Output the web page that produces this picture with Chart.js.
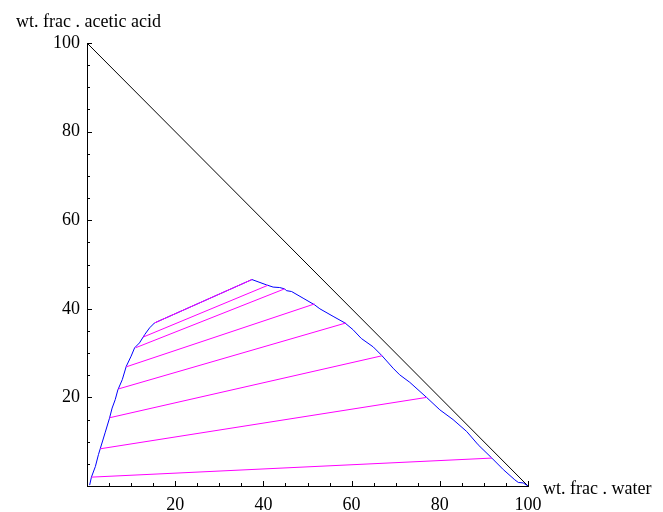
<!DOCTYPE html>
<html>
<head>
<meta charset="utf-8">
<script src="https://cdn.jsdelivr.net/npm/chart.js@4.4.0/dist/chart.umd.min.js"></script>
<style>
  html, body { margin: 0; padding: 0; background: #fff; }
  #wrap { width: 663px; height: 512px; }
</style>
</head>
<body>
<div id="wrap"><canvas id="ternaryChart" width="663" height="512"></canvas></div>
<script>
const xTitle = "wt. frac . water";
const yTitle = "wt. frac . acetic acid";

// binodal curve (raffinate branch up to the plait region, then extract branch down)
const curveX = [0.6, 1.0, 1.9, 2.6, 3.0, 4.1, 5.1, 5.7, 6.4, 7.0, 8.0, 8.9, 10.0, 10.8, 11.9, 13.1, 14.2, 15.3,
  37.4, 40.7, 42.2, 43.7, 44.8, 45.2, 46.4, 49.0, 51.6, 52.8, 55.8, 58.5, 60.3, 62.2, 64.9, 66.9,
  69.4, 70.9, 73.2, 77.0, 80.0, 83.0, 86.1, 88.7, 91.8, 94.4, 97.0, 97.8, 98.9, 100];
const curveY = [0.2, 2.0, 4.4, 7.1, 8.4, 12.0, 15.3, 17.6, 19.5, 21.7, 24.0, 27.0, 29.3, 31.2, 32.3, 34.2, 35.7, 36.8,
  46.6, 45.4, 44.9, 44.8, 44.5, 44.1, 43.9, 42.4, 40.9, 40.0, 38.3, 36.8, 35.3, 33.3, 31.4, 29.4,
  26.6, 25.1, 23.4, 20.0, 17.2, 15.0, 12.3, 9.3, 6.3, 3.7, 1.4, 0.8, 0.7, 0];

// tie lines
const tieLeftX = [15.3, 12.7, 11.0, 8.9, 7.1, 5.1, 3.0, 1.0];
const tieLeftY = [36.8, 33.6, 31.2, 26.9, 21.9, 15.4, 8.4, 2.0];
const tieRightX = [37.4, 41.0, 44.8, 51.6, 58.7, 66.9, 77.0, 91.8];
const tieRightY = [46.6, 45.3, 44.5, 41.1, 36.8, 29.4, 20.0, 6.3];

// hypotenuse of the triangle
const edgeX = [0, 100];
const edgeY = [100, 0];

const labelFont = { family: "'Liberation Serif', 'Times New Roman', serif", size: 18 };

function toPoints(xs, ys) {
  return xs.map((x, i) => ({ x: x, y: ys[i] }));
}

let tieSets = tieLeftX.map((x, i) => ({
  data: [{ x: x, y: tieLeftY[i] }, { x: tieRightX[i], y: tieRightY[i] }],
  borderColor: "#ff00ff",
  borderWidth: 1,
  order: 0,
}));

// ticks point into the plot, like the original
const innerTicks = {
  id: "innerTicks",
  afterDraw(chart) {
    const ctx = chart.ctx;
    const area = chart.chartArea;
    const xs = chart.scales.x;
    const ys = chart.scales.y;
    ctx.save();
    ctx.strokeStyle = "#000";
    ctx.lineWidth = 1;
    xs.ticks.forEach((t) => {
      if (t.value === 0) return;
      const px = Math.round(xs.getPixelForValue(t.value)) + 0.5;
      const len = t.value % 20 === 0 ? 5 : 3;
      ctx.beginPath();
      ctx.moveTo(px, area.bottom);
      ctx.lineTo(px, area.bottom - len);
      ctx.stroke();
    });
    ys.ticks.forEach((t) => {
      if (t.value === 0) return;
      const py = Math.round(ys.getPixelForValue(t.value)) + 0.5;
      const len = t.value % 20 === 0 ? 5 : 3;
      ctx.beginPath();
      ctx.moveTo(area.left, py);
      ctx.lineTo(area.left + len, py);
      ctx.stroke();
    });

    ctx.fillStyle = "#000";
    ctx.font = "18px 'Liberation Serif', serif";
    ctx.textBaseline = "alphabetic";
    ctx.textAlign = "left";
    ctx.fillText(yTitle, 16, 27);
    ctx.fillText(xTitle, 543, 494);
    ctx.restore();
  },
};

new Chart(document.getElementById("ternaryChart"), {
  type: "scatter",
  data: {
    datasets: tieSets.concat([
      {
        data: toPoints(curveX, curveY),
        borderColor: "#0000ff",
        borderWidth: 1,
        order: 1,
      },
      {
        data: toPoints(edgeX, edgeY),
        borderColor: "#000",
        borderWidth: 1,
        order: 2,
      },
    ]),
  },
  options: {
    responsive: false,
    animation: false,
    showLine: true,
    elements: { point: { radius: 0 }, line: { tension: 0 } },
    layout: { padding: { top: 43, right: 135, left: 0, bottom: 0 } },
    plugins: { legend: { display: false }, tooltip: { enabled: false } },
    scales: {
      x: {
        type: "linear",
        min: 0,
        max: 100,
        afterFit(s) { s.height = 26; },
        grid: { drawOnChartArea: false, drawTicks: false },
        border: { color: "#000", width: 1 },
        ticks: {
          stepSize: 5,
          autoSkip: false,
          maxRotation: 0,
          padding: 8,
          color: "#000",
          font: labelFont,
          callback: (v) => (v % 20 === 0 && v !== 0 ? v : ""),
        },
      },
      y: {
        type: "linear",
        min: 0,
        max: 100,
        afterFit(s) { s.width = 87; },
        grid: { drawOnChartArea: false, drawTicks: false },
        border: { color: "#000", width: 1 },
        ticks: {
          stepSize: 5,
          autoSkip: false,
          padding: 7,
          color: "#000",
          font: labelFont,
          callback: (v) => (v % 20 === 0 && v !== 0 ? v : ""),
        },
      },
    },
  },
  plugins: [innerTicks],
});
</script>
</body>
</html>
